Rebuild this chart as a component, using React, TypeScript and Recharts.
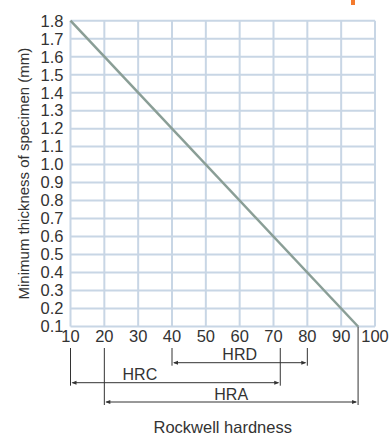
import React from 'react';
import { LineChart, Line, XAxis, YAxis, CartesianGrid, Customized, usePlotArea } from 'recharts';

const hardnessTicks = [10, 20, 30, 40, 50, 60, 70, 80, 90, 100];
const thicknessTicks = [0.1, 0.2, 0.3, 0.4, 0.5, 0.6, 0.7, 0.8, 0.9, 1.0, 1.1, 1.2, 1.3, 1.4, 1.5, 1.6, 1.7, 1.8];
const hardness = [10, 95];
const thickness = [1.8, 0.1];
const scaleNames = ['HRD', 'HRC', 'HRA'];
const scaleFrom = [40, 10, 20];
const scaleTo = [80, 72, 95];
const scaleLabelAt = [60, 30.5, 57.5];

const data = hardness.map((h, i) => ({ hardness: h, thickness: thickness[i] }));

const FONT = "'Liberation Sans', Arial, sans-serif";
const GRID = '#c8d6e5';
const INK = '#333333';

// range brackets under the x axis, placed with the plot area of the chart
const ScaleBrackets: React.FC = () => {
  const plot = usePlotArea();
  if (!plot) return null;
  const px = (v: number) => plot.x + ((v - 10) / 90) * plot.width;
  const bottom = plot.y + plot.height;
  const rowY = [362.7, 382.7, 402];
  return (
    <g>
      {scaleNames.map((name, i) => {
        const y = rowY[i];
        const x1 = px(scaleFrom[i]);
        const x2 = px(scaleTo[i]);
        const top = 348;
        const rightTop = scaleTo[i] === 95 ? bottom : top;
        return (
          <g key={name}>
            <line x1={x1} y1={top} x2={x1} y2={y + 3} stroke={INK} strokeWidth={1} />
            <line x1={x2} y1={rightTop} x2={x2} y2={y + 3} stroke={INK} strokeWidth={1} />
            <line x1={x1 + 2} y1={y} x2={x2 - 2} y2={y} stroke={INK} strokeWidth={1} />
            <path d={`M${x1 + 1},${y} L${x1 + 6},${y - 2} L${x1 + 6},${y + 2} Z`} fill={INK} />
            <path d={`M${x2 - 1},${y} L${x2 - 6},${y - 2} L${x2 - 6},${y + 2} Z`} fill={INK} />
            <text x={px(scaleLabelAt[i])} y={y - 2.5} textAnchor="middle" fontSize={16} fontFamily={FONT} fill={INK}>
              {name}
            </text>
          </g>
        );
      })}
    </g>
  );
};

const App: React.FC = () => {
  return (
    <div style={{ position: 'absolute', left: 0, top: 0, width: 390, height: 436, background: '#fff' }}>
      <div style={{ position: 'absolute', left: 351, top: 0, width: 4, height: 5, background: '#f47b2e' }} />
      <LineChart
        width={390}
        height={436}
        data={data}
        margin={{ top: 20.7, right: 15, bottom: 0, left: 0 }}
        style={{ fontFamily: FONT }}
      >
        <CartesianGrid stroke={GRID} strokeWidth={2} horizontalValues={thicknessTicks} verticalValues={hardnessTicks} />
        <XAxis
          dataKey="hardness"
          type="number"
          domain={[10, 100]}
          ticks={hardnessTicks}
          height={109.5}
          tickSize={0}
          tickMargin={4}
          axisLine={false}
          tick={{ fill: INK, fontSize: 16.5 }}
          label={{ value: 'Rockwell hardness', position: 'insideBottom', offset: 3, fill: INK, fontSize: 16.5 }}
        />
        <YAxis
          type="number"
          domain={[0.1, 1.8]}
          ticks={thicknessTicks}
          tickFormatter={(v: number) => v.toFixed(1)}
          width={70.5}
          tickSize={0}
          tickMargin={7}
          axisLine={false}
          interval={0}
          tick={{ fill: INK, fontSize: 16.5 }}
          label={{
            value: 'Minimum thickness of specimen (mm)',
            angle: -90,
            position: 'insideLeft',
            offset: 24,
            fill: INK,
            fontSize: 15,
            style: { textAnchor: 'middle' },
          }}
        />
        <Line
          dataKey="thickness"
          stroke="#8a9e96"
          strokeWidth={2.5}
          dot={false}
          isAnimationActive={false}
        />
        <Customized component={<ScaleBrackets />} />
      </LineChart>
    </div>
  );
};

export default App;
